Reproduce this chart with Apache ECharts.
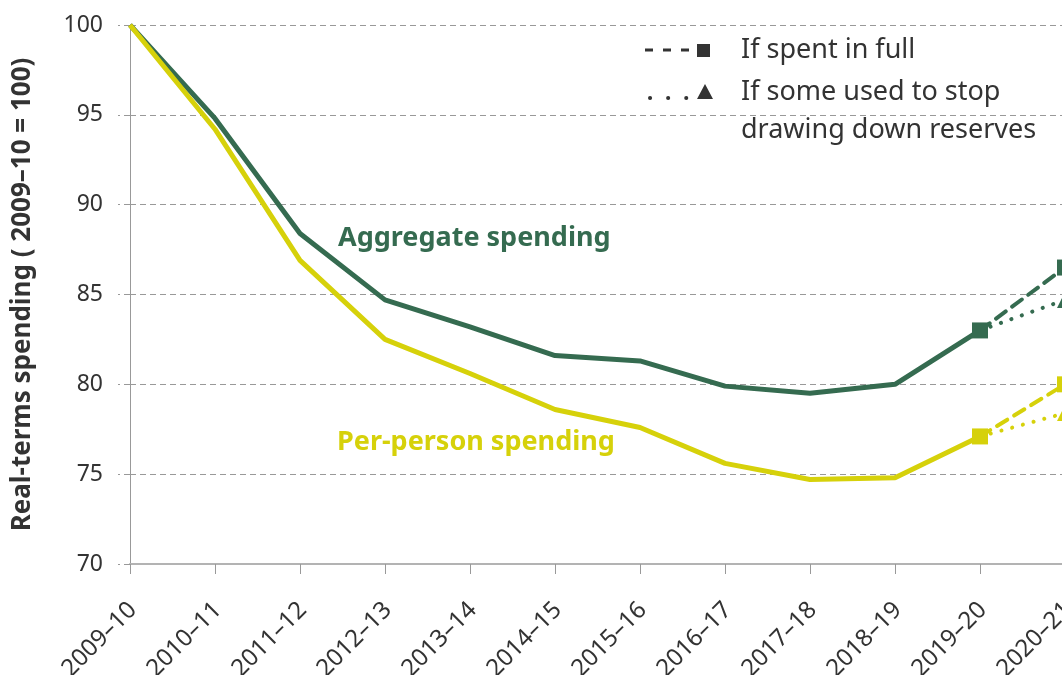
<!DOCTYPE html>
<html>
<head>
<meta charset="utf-8">
<script src="https://cdn.jsdelivr.net/npm/echarts@6/dist/echarts.min.js"></script>
<style>
  html, body { margin: 0; padding: 0; background: #fff; }
  #chart { width: 1062px; height: 675px; }
</style>
</head>
<body>
<div id="chart"></div>
<script>
// Years on the x axis
const years = ['2009–10', '2010–11', '2011–12', '2012–13', '2013–14', '2014–15',
  '2015–16', '2016–17', '2017–18', '2018–19', '2019–20', '2020–21']

// Outturn series, 2009–10 = 100
const aggregate = [100, 94.8, 88.4, 84.7, 83.2, 81.6, 81.3, 79.9, 79.5, 80.0, 83.0, null]
const perPerson = [100, 94.2, 86.9, 82.5, 80.6, 78.6, 77.6, 75.6, 74.7, 74.8, 77.1, null]

// Projections for 2020–21 (start at 2019–20)
const aggregateFull = [null, null, null, null, null, null, null, null, null, null, 83.0, 86.5]
const aggregatePart = [null, null, null, null, null, null, null, null, null, null, 83.0, 84.7]
const perPersonFull = [null, null, null, null, null, null, null, null, null, null, 77.1, 80.0]
const perPersonPart = [null, null, null, null, null, null, null, null, null, null, 77.1, 78.4]

const yTicks = [70, 75, 80, 85, 90, 95, 100]

const green = '#356B50'
const yellow = '#D6D10A'
const textColor = '#333333'
const font = '"Noto Sans", "Open Sans", sans-serif'

// put a marker only on the listed points
const withSymbols = (data, symbols) => data.map((v, i) =>
  v == null ? null : { value: v, symbol: symbols[i] || 'none' })

const solid = (name, data, color) => ({
  name,
  type: 'line',
  data: withSymbols(data, { 10: 'rect' }),
  symbolSize: 16,
  lineStyle: { width: 5, color },
  itemStyle: { color },
  z: 3
})

const projection = (name, data, color, type, endSymbol) => ({
  name,
  type: 'line',
  data: withSymbols(data, { 11: endSymbol }),
  symbolSize: 16,
  lineStyle: { width: 4, color, type, cap: 'round' },
  itemStyle: { color },
  z: 2
})

const chart = echarts.init(document.getElementById('chart'))

chart.setOption({
  backgroundColor: '#fff',
  animation: false,
  textStyle: { fontFamily: font },
  grid: { left: 130, right: -3, top: 25, bottom: 111, containLabel: false, outerBoundsMode: 'none' },
  xAxis: {
    type: 'category',
    data: years,
    boundaryGap: false,
    axisLine: { lineStyle: { color: '#b3b3b3', width: 2 } },
    axisTick: { show: true, length: 10, alignWithLabel: true, lineStyle: { color: '#999', width: 1 } },
    axisLabel: {
      rotate: 45, fontSize: 24, color: textColor, margin: 28, fontFamily: font,
      interval: 0, hideOverlap: false, verticalAlign: 'top', align: 'right', padding: [0, 8, 0, 0]
    }
  },
  yAxis: {
    type: 'value',
    min: 70,
    max: 100,
    interval: 5,
    name: 'Real-terms spending ( 2009–10 = 100)',
    nameLocation: 'middle',
    nameGap: 94,
    nameTextStyle: { fontSize: 26, fontWeight: 'bold', color: textColor, fontFamily: font },
    axisLine: { show: true, lineStyle: { color: '#999', width: 1 } },
    axisTick: { show: true, length: 12, lineStyle: { color: '#999', type: [6, 4] } },
    axisLabel: {
      fontSize: 23, color: textColor, margin: 27, fontFamily: font,
      formatter: v => yTicks.includes(v) ? String(v) : ''
    },
    splitLine: { show: true, lineStyle: { color: '#999', width: 1, type: [6, 4] } }
  },
  series: [
    projection('Aggregate – if spent in full', aggregateFull, green, [12, 8], 'rect'),
    projection('Aggregate – reserves', aggregatePart, green, [0.1, 11], 'triangle'),
    projection('Per-person – if spent in full', perPersonFull, yellow, [12, 8], 'rect'),
    projection('Per-person – reserves', perPersonPart, yellow, [0.1, 11], 'triangle'),
    solid('Aggregate spending', aggregate, green),
    solid('Per-person spending', perPerson, yellow)
  ],
  graphic: [
    { type: 'text', x: 338, y: 238, style: { text: 'Aggregate spending', fill: green, font: 'bold 27px ' + font, verticalAlign: 'middle' } },
    { type: 'text', x: 337, y: 442, style: { text: 'Per-person spending', fill: yellow, font: 'bold 27px ' + font, verticalAlign: 'middle' } },
    // legend key
    { type: 'line', shape: { x1: 645, y1: 50, x2: 690, y2: 50 }, style: { stroke: textColor, lineWidth: 3, lineDash: [8, 10] } },
    { type: 'rect', shape: { x: 697, y: 44, width: 13, height: 13 }, style: { fill: textColor } },
    { type: 'text', x: 741, y: 50, style: { text: 'If spent in full', fill: textColor, font: '27px ' + font, verticalAlign: 'middle' } },
    { type: 'line', shape: { x1: 650, y1: 98, x2: 687, y2: 98 }, style: { stroke: textColor, lineWidth: 4, lineDash: [0.1, 18], lineCap: 'round' } },
    { type: 'polygon', shape: { points: [[697, 99], [713, 99], [705, 84]] }, style: { fill: textColor } },
    { type: 'text', x: 741, y: 92, style: { text: 'If some used to stop', fill: textColor, font: '27px ' + font, verticalAlign: 'middle' } },
    { type: 'text', x: 741, y: 130, style: { text: 'drawing down reserves', fill: textColor, font: '27px ' + font, verticalAlign: 'middle' } }
  ]
})
</script>
</body>
</html>
